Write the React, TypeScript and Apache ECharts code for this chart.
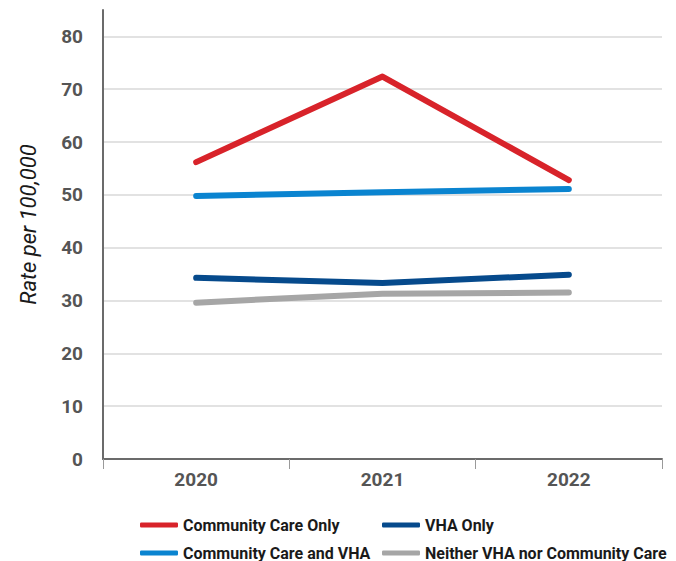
import React, { useEffect, useRef } from "react";
import * as echarts from "echarts";

const years = ["2020", "2021", "2022"];
const communityCareOnly = [56.2, 72.4, 52.8];
const communityCareAndVHA = [49.8, 50.5, 51.1];
const vhaOnly = [34.3, 33.3, 34.9];
const neither = [29.6, 31.3, 31.5];

const FONT = "Roboto, 'DejaVu Sans Condensed', sans-serif";

export default function App() {
  const ref = useRef<HTMLDivElement>(null);
  useEffect(() => {
    if (!ref.current) return;
    const chart = echarts.init(ref.current, null, { renderer: "svg" });
    const gridColors = Array(9).fill("#d9d9d9").concat(["rgba(0,0,0,0)", "rgba(0,0,0,0)"]);
    const legendBase = {
      icon: "roundRect",
      itemWidth: 38,
      itemHeight: 5,
      itemGap: 10,
      textStyle: { fontFamily: FONT, fontWeight: "bold", fontSize: 16, color: "#1a1a1a" },
      selectedMode: false,
    };
    const lineSeries = (name: string, data: number[], color: string) => ({
      name,
      type: "line",
      data,
      showSymbol: false,
      symbol: "none",
      color,
      lineStyle: { color, width: 6, cap: "round", join: "round" },
    });
    chart.setOption({
      animation: false,
      backgroundColor: "#ffffff",
      grid: { left: 103, right: 14, top: 10, bottom: 102 },
      xAxis: {
        type: "category",
        data: years,
        boundaryGap: true,
        axisLine: { lineStyle: { color: "#6b6b6b", width: 2 } },
        axisTick: { show: true, length: 10, lineStyle: { color: "#9a9a9a", width: 1 } },
        axisLabel: { fontFamily: FONT, fontWeight: "bold", fontSize: 19, color: "#555555", margin: 11 },
        splitLine: { show: false },
      },
      yAxis: {
        type: "value",
        min: 0,
        max: 85,
        interval: 10,
        name: "Rate per 100,000",
        nameLocation: "middle",
        nameGap: 64,
        nameRotate: 90,
        nameTextStyle: {
          fontFamily: FONT,
          fontStyle: "italic",
          fontSize: 22,
          color: "#1a1a1a",
          padding: [0, 0, 0, 20],
        },
        axisLine: { show: true, lineStyle: { color: "#6b6b6b", width: 2 } },
        axisTick: { show: false },
        axisLabel: {
          fontFamily: FONT,
          fontWeight: "bold",
          fontSize: 19,
          color: "#555555",
          margin: 20,
          formatter: (v: number) => (v > 80 ? "" : String(v)),
        },
        splitLine: { show: true, lineStyle: { color: gridColors, width: 1.5 } },
      },
      legend: [
        { ...legendBase, data: ["Community Care Only"], left: 135, top: 512 },
        { ...legendBase, data: ["VHA Only"], left: 377, top: 512 },
        { ...legendBase, data: ["Community Care and VHA"], left: 135, top: 540 },
        { ...legendBase, data: ["Neither VHA nor Community Care"], left: 377, top: 540 },
      ],
      series: [
        lineSeries("Neither VHA nor Community Care", neither, "#a6a6a6"),
        lineSeries("VHA Only", vhaOnly, "#064a8c"),
        lineSeries("Community Care and VHA", communityCareAndVHA, "#0a84d0"),
        lineSeries("Community Care Only", communityCareOnly, "#d8232a"),
      ],
    });
    return () => chart.dispose();
  }, []);
  return (
    <div
      ref={ref}
      style={{ position: "fixed", left: 0, top: 0, width: 676, height: 561, background: "#fff" }}
    />
  );
}
